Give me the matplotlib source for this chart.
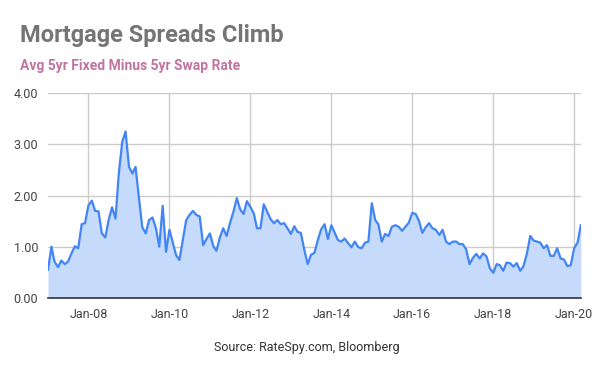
import pandas as pd
import matplotlib
matplotlib.use("Agg")
import matplotlib.pyplot as plt
import matplotlib.dates as mdates

plt.rcParams['font.family'] = ['Roboto', 'DejaVu Sans']

# Monthly spread (avg 5yr fixed minus 5yr swap), Jan 2007 - Mar 2020
months = pd.date_range("2007-01-01", periods=159, freq="MS")
spread = [
    0.55, 1.00, 0.71, 0.60, 0.73, 0.66, 0.71, 0.87, 1.01, 0.97, 1.44, 1.46,
    1.81, 1.90, 1.70, 1.69, 1.26, 1.18, 1.52, 1.77, 1.55, 2.43, 3.05, 3.25,
    2.56, 2.43, 2.56, 1.95, 1.38, 1.26, 1.52, 1.57, 1.36, 1.00, 1.80, 0.90,
    1.33, 1.07, 0.84, 0.74, 1.13, 1.52, 1.62, 1.70, 1.62, 1.59, 1.03, 1.15,
    1.26, 1.01, 0.92, 1.18, 1.36, 1.21, 1.46, 1.68, 1.95, 1.73, 1.64, 1.89,
    1.78, 1.65, 1.36, 1.36, 1.83, 1.68, 1.54, 1.46, 1.52, 1.44, 1.46, 1.36,
    1.25, 1.40, 1.29, 1.27, 0.95, 0.66, 0.84, 0.88, 1.13, 1.34, 1.44, 1.15,
    1.42, 1.27, 1.13, 1.10, 1.16, 1.07, 0.99, 1.10, 0.99, 0.97, 1.08, 1.10,
    1.85, 1.52, 1.44, 1.10, 1.25, 1.21, 1.39, 1.42, 1.39, 1.31, 1.39, 1.47,
    1.66, 1.64, 1.51, 1.27, 1.38, 1.46, 1.36, 1.33, 1.23, 1.33, 1.10, 1.05,
    1.10, 1.10, 1.05, 1.05, 0.95, 0.66, 0.78, 0.86, 0.77, 0.87, 0.81, 0.58,
    0.49, 0.66, 0.64, 0.53, 0.69, 0.68, 0.61, 0.68, 0.53, 0.62, 0.87, 1.21,
    1.12, 1.10, 1.08, 0.97, 1.03, 0.82, 0.82, 0.97, 0.77, 0.75, 0.62, 0.64,
    0.97, 1.08, 1.42,
]
tick_dates = pd.date_range("2008-01-01", "2020-01-01", freq="24MS")
y_ticks = [0, 1, 2, 3, 4]

fig = plt.figure(figsize=(6, 3.71), dpi=100)
ax = fig.add_axes([0.08, 0.197, 0.888, 0.552])

ax.fill_between(months, spread, 0, color="#c6dafc", linewidth=0)
ax.plot(months, spread, color="#4285f4", linewidth=1.6)

ax.set_xlim(months[0], months[-1])
ax.set_ylim(0, 4)
ax.set_yticks(y_ticks)
ax.yaxis.set_major_formatter(plt.FormatStrFormatter("%.2f"))
ax.set_xticks(tick_dates)
ax.xaxis.set_major_formatter(mdates.DateFormatter("Jan-%y"))
ax.grid(True, color="#cccccc", linewidth=1)
ax.set_axisbelow(True)
ax.tick_params(length=0, labelsize=9, labelcolor="#444444", pad=7)
for side in ["top", "right", "left"]:
    ax.spines[side].set_visible(False)
ax.spines["bottom"].set_color("#333333")
ax.spines["bottom"].set_linewidth(1.2)

fig.text(0.033, 0.905, "Mortgage Spreads Climb", fontsize=17, fontweight="bold",
         color="#757575", va="center")
fig.text(0.033, 0.822, "Avg 5yr Fixed Minus 5yr Swap Rate", fontsize=10,
         fontweight="bold", color="#c2739f", va="center")
fig.text(0.512, 0.062, "Source: RateSpy.com, Bloomberg", fontsize=9,
         color="#333333", ha="center", va="center")

fig.savefig("out.png", dpi=100)
